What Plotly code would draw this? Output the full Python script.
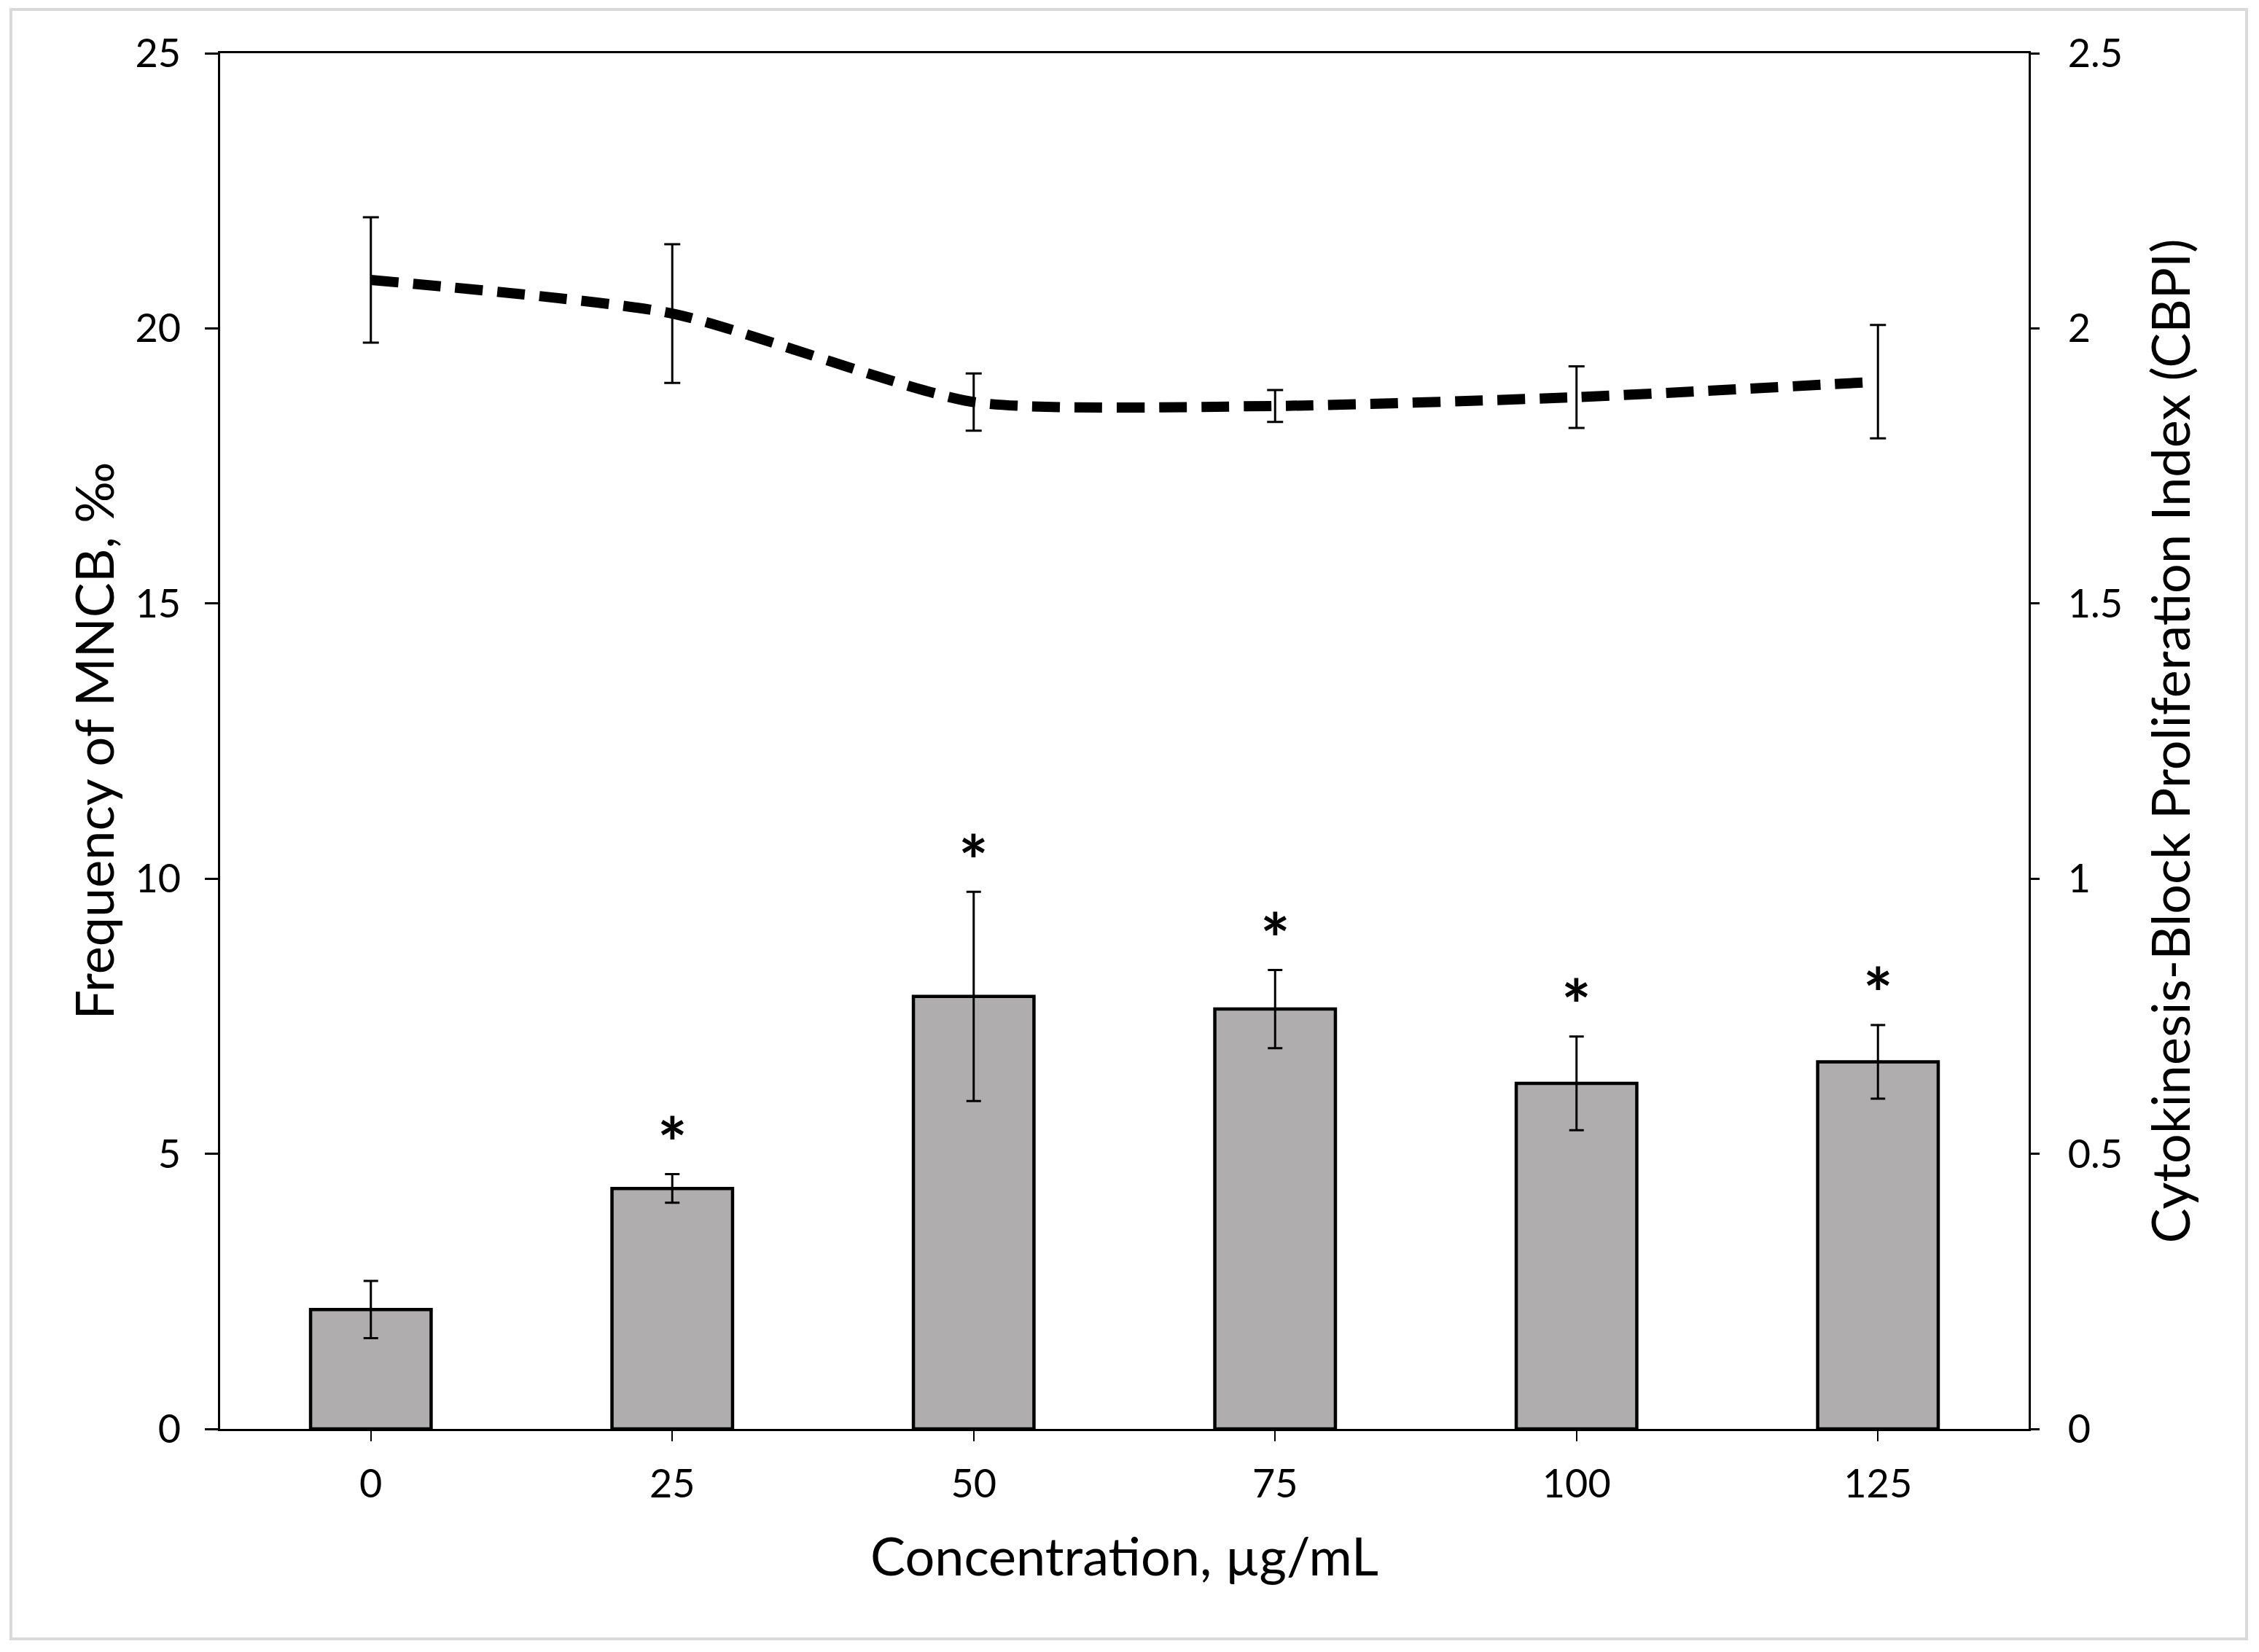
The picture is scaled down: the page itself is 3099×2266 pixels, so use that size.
import plotly.graph_objects as go

# Концентрации и данные
concentrations = ["0", "25", "50", "75", "100", "125"]

mncb_mean = [2.17, 4.37, 7.86, 7.63, 6.28, 6.67]
mncb_err = [0.52, 0.26, 1.90, 0.71, 0.85, 0.67]
significant = [False, True, True, True, True, True]

cbpi_mean = [2.088, 2.027, 1.866, 1.859, 1.875, 1.903]
cbpi_err = [0.114, 0.126, 0.052, 0.029, 0.056, 0.103]

left_ticks = [0, 5, 10, 15, 20, 25]
right_ticks = [0, 0.5, 1, 1.5, 2, 2.5]

FONT = "Lato"

fig = go.Figure()

# Столбцы: частота MNCB
fig.add_trace(go.Bar(
    x=concentrations,
    y=mncb_mean,
    width=0.4,
    marker=dict(color="#afadae", line=dict(color="black", width=4.5)),
    error_y=dict(type="data", array=mncb_err, visible=True,
                 color="black", thickness=3, width=10),
    showlegend=False,
))

# Линия: CBPI
fig.add_trace(go.Scatter(
    x=concentrations,
    y=cbpi_mean,
    yaxis="y2",
    mode="lines",
    line=dict(color="black", width=14, dash="38px,20px", shape="spline", smoothing=0.6),
    error_y=dict(type="data", array=cbpi_err, visible=True,
                 color="black", thickness=3, width=11),
    showlegend=False,
))

# Звёздочки значимости (x — индекс категории)
for i, (m, e, s) in enumerate(zip(mncb_mean, mncb_err, significant)):
    if s:
        fig.add_annotation(
            x=i, y=m + e + 0.6, xref="x", yref="y",
            text="<b>*</b>", showarrow=False,
            xanchor="center", yanchor="middle",
            font=dict(family=FONT, size=96, color="black"),
        )

# Подписи осей
fig.add_annotation(
    x=-0.0705, y=0.5, xref="paper", yref="paper",
    xanchor="center", yanchor="middle",
    text="Frequency of MNCB, ‰", textangle=-90, showarrow=False,
    font=dict(family=FONT, size=72, color="black"),
)
fig.add_annotation(
    x=1.0774, y=0.5, xref="paper", yref="paper",
    xanchor="center", yanchor="middle",
    text="Cytokinesis-Block Proliferation Index (CBPI)", textangle=-90, showarrow=False,
    font=dict(family=FONT, size=72, color="black"),
)
fig.add_annotation(
    x=0.5, y=-0.0917, xref="paper", yref="paper",
    xanchor="center", yanchor="middle",
    text="Concentration, µg/mL", showarrow=False,
    font=dict(family=FONT, size=72, color="black"),
)

# Светлая рамка вокруг всего рисунка
fig.add_shape(
    type="rect", xref="paper", yref="paper",
    x0=-0.1157, x1=1.1205, y0=-0.1526, y1=1.0318,
    line=dict(color="#d9d9d9", width=4), layer="below",
)

# Страница добавляет отступ 8px, поэтому поля уменьшены на 8
fig.update_layout(
    width=3091,
    height=2258,
    margin=dict(l=294, r=316, t=65, b=306),
    paper_bgcolor="white",
    plot_bgcolor="white",
    font=dict(family=FONT, size=54, color="black"),
    xaxis=dict(
        range=[-0.5, 5.5],
        showline=True, linecolor="black", linewidth=3, mirror=True,
        ticks="outside", ticklen=14, tickwidth=2, tickcolor="black",
        ticklabelstandoff=12,
        showgrid=False, zeroline=False,
        tickfont=dict(family=FONT, size=54),
    ),
    yaxis=dict(
        range=[0, 25],
        tickvals=left_ticks,
        showline=True, linecolor="black", linewidth=3,
        ticks="outside", ticklen=18, tickwidth=3, tickcolor="black",
        ticklabelstandoff=22,
        showgrid=False, zeroline=False,
        tickfont=dict(family=FONT, size=54),
    ),
    yaxis2=dict(
        range=[0, 2.5],
        tickvals=right_ticks,
        overlaying="y", side="right",
        showline=True, linecolor="black", linewidth=3,
        ticks="outside", ticklen=12, tickwidth=3, tickcolor="black",
        ticklabelstandoff=28,
        showgrid=False, zeroline=False,
        tickfont=dict(family=FONT, size=54),
    ),
)

fig.write_html("out.html")
